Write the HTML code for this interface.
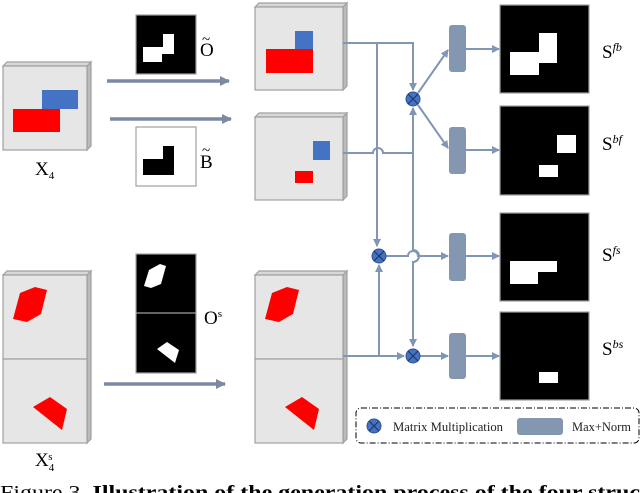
<!DOCTYPE html>
<html><head><style>body{margin:0;background:#fff}svg{display:block}</style></head><body>
<svg width="640" height="493" viewBox="0 0 640 493" xmlns="http://www.w3.org/2000/svg" font-family="Liberation Serif, serif">
<defs>
<marker id="ah" markerWidth="8" markerHeight="8" refX="7" refY="4" orient="auto" markerUnits="userSpaceOnUse"><path d="M0,0 L8,4 L0,8 z" fill="#8096b4"/></marker>
<marker id="ah2" markerWidth="10" markerHeight="10" refX="9" refY="5" orient="auto" markerUnits="userSpaceOnUse"><path d="M0,0 L10,5 L0,10 z" fill="#7a8aa0"/></marker>
</defs>
<g stroke="#a0a0a0" stroke-width="1.2">
<polygon points="3,66 7,62 91,62 87,66" fill="#d8d8d8"/><polygon points="87,66 91,62 91,146 87,150" fill="#bbb"/><rect x="3" y="66" width="84" height="84" fill="#e6e6e6"/>
<polygon points="255,7 259,3 347,3 343,7" fill="#d8d8d8"/><polygon points="343,7 347,3 347,86 343,90" fill="#bbb"/><rect x="255" y="7" width="88" height="83" fill="#e6e6e6"/>
<polygon points="255,117 259,113 347,113 343,117" fill="#d8d8d8"/><polygon points="343,117 347,113 347,196 343,200" fill="#bbb"/><rect x="255" y="117" width="88" height="83" fill="#e6e6e6"/>
<polygon points="3,275 7,271 91,271 87,275" fill="#d8d8d8"/><polygon points="87,275 91,271 91,439 87,443" fill="#bbb"/><rect x="3" y="275" width="84" height="84" fill="#e6e6e6"/><rect x="3" y="359" width="84" height="84" fill="#e6e6e6"/>
<polygon points="255,275 259,271 347,271 343,275" fill="#d8d8d8"/><polygon points="343,275 347,271 347,439 343,443" fill="#bbb"/><rect x="255" y="275" width="88" height="84" fill="#e6e6e6"/><rect x="255" y="359" width="88" height="84" fill="#e6e6e6"/>
<rect x="136" y="15" width="60" height="59" fill="#000"/>
<rect x="136" y="127" width="60" height="59" fill="#fff"/>
<rect x="136" y="254" width="60" height="119" fill="#000"/><line x1="136" y1="313" x2="196" y2="313"/>
<rect x="500" y="5" width="89" height="88" fill="#000"/>
<rect x="500" y="106" width="89" height="89" fill="#000"/>
<rect x="500" y="213" width="89" height="88" fill="#000"/>
<rect x="500" y="312" width="89" height="88" fill="#000"/>
</g>
<rect x="42" y="90" width="36" height="19" fill="#4472c4"/><rect x="13" y="109" width="47" height="23" fill="#f00"/>
<rect x="295" y="31" width="18" height="18" fill="#4472c4"/><rect x="266" y="49" width="47" height="24" fill="#f00"/>
<rect x="313" y="141" width="17" height="19" fill="#4472c4"/><rect x="295" y="171" width="18" height="12" fill="#f00"/>
<polygon points="20,293 35,287 47,290 41,314 27,322 13,319" fill="#f00"/>
<polygon points="33,407 50,397 67,409 62,430" fill="#f00"/>
<polygon points="272,293 287,287 299,290 293,314 279,322 265,319" fill="#f00"/>
<polygon points="285,407 302,397 319,409 314,430" fill="#f00"/>
<polygon points="163,34 174,34 174,54 162,54 162,62 143,62 143,47 163,47" fill="#fff"/>
<polygon points="163,146 174,146 174,175 143,175 143,159 163,159" fill="#000"/>
<polygon points="149,270 160,264 166,266 161,284 151,288 144,286" fill="#fff"/>
<polygon points="157,349 167,342 179,350 175,363" fill="#fff"/>
<polygon points="539,33 557,33 557,63 539,63 539,75 510,75 510,52 539,52" fill="#fff"/>
<rect x="557" y="135" width="19" height="18" fill="#fff"/><rect x="539" y="165" width="19" height="12" fill="#fff"/>
<polygon points="510,261 557,261 557,272 538,272 538,284 510,284" fill="#fff"/>
<rect x="539" y="372" width="19" height="11" fill="#fff"/>
<g stroke="#7a8aa0" stroke-width="3.5" marker-end="url(#ah2)">
<line x1="107" y1="81" x2="229" y2="81"/><line x1="110" y1="119" x2="231" y2="119"/><line x1="104" y1="384" x2="225" y2="384"/>
</g>
<g stroke="#8096b4" stroke-width="2" fill="none">
<path d="M343,43 L413,43 L413,90" marker-end="url(#ah)"/>
<path d="M377,43 L377,246" marker-end="url(#ah)"/>
<path d="M343,153 L373,153 A5,5 0 0 1 383,153 L413,153"/>
<path d="M413,150 L413,108" marker-end="url(#ah)"/>
<path d="M413,150 L413,250 A5,5 0 0 1 413,262 L413,346" marker-end="url(#ah)"/>
<path d="M343,356 L404,356" marker-end="url(#ah)"/>
<path d="M379,356 L379,265" marker-end="url(#ah)"/>
<path d="M386,256 L408,256 A5,5 0 0 1 418,256 L448,256" marker-end="url(#ah)"/>
<path d="M420,356 L448,356" marker-end="url(#ah)"/>
<path d="M418,93 L448,50" marker-end="url(#ah)"/>
<path d="M418,105 L448,148" marker-end="url(#ah)"/>
<path d="M466,49 L499,49" marker-end="url(#ah)"/>
<path d="M466,150 L499,150" marker-end="url(#ah)"/>
<path d="M466,256 L499,256" marker-end="url(#ah)"/>
<path d="M466,356 L499,356" marker-end="url(#ah)"/>
</g>
<g fill="#8497b0"><rect x="449" y="25" width="17" height="47" rx="3"/><rect x="449" y="127" width="17" height="47" rx="3"/><rect x="449" y="233" width="17" height="48" rx="3"/><rect x="449" y="333" width="17" height="46" rx="3"/><rect x="517" y="418" width="46" height="17" rx="3"/></g>
<g fill="#4472c4" stroke="#2f528f" stroke-width="1">
<circle cx="413" cy="99" r="7"/><circle cx="379" cy="256" r="7"/><circle cx="413" cy="356" r="7"/><circle cx="374" cy="426" r="7"/>
</g>
<g stroke="#1f3864" stroke-width="1.2">
<path d="M408,94 l10,10 M418,94 l-10,10"/><path d="M374,251 l10,10 M384,251 l-10,10"/><path d="M408,351 l10,10 M418,351 l-10,10"/><path d="M369,421 l10,10 M379,421 l-10,10"/>
</g>
<rect x="356" y="408" width="283" height="35" rx="5" fill="none" stroke="#000" stroke-width="1" stroke-dasharray="6,2,1,2"/>
<g font-size="12.5" fill="#222"><text x="393" y="431" textLength="110" lengthAdjust="spacingAndGlyphs">Matrix Multiplication</text><text x="572" y="431" textLength="59" lengthAdjust="spacingAndGlyphs">Max+Norm</text></g>
<g font-size="19" fill="#000">
<text x="35" y="175">X<tspan font-size="11" dy="4">4</tspan></text>
<text x="35" y="466">X<tspan font-size="11" dy="5">4</tspan><tspan font-size="11" dx="-6" dy="-11">s</tspan></text>
<text x="200" y="56">O</text><text x="202" y="44" font-size="15">~</text>
<text x="200" y="168">B</text><text x="202" y="155" font-size="15">~</text>
<text x="204" y="324">O<tspan font-size="11" dy="-7">s</tspan></text>
<text x="602" y="58">S<tspan font-size="12" dy="-7" font-style="italic">fb</tspan></text>
<text x="602" y="150">S<tspan font-size="12" dy="-7" font-style="italic">bf</tspan></text>
<text x="602" y="261">S<tspan font-size="12" dy="-7" font-style="italic">fs</tspan></text>
<text x="602" y="355">S<tspan font-size="12" dy="-7" font-style="italic">bs</tspan></text>
</g>
<text x="0" y="499" font-size="20" textLength="640" lengthAdjust="spacingAndGlyphs">Figure 3. <tspan font-weight="bold">Illustration of the generation process of the four struc</tspan></text>
</svg>
</body></html>
